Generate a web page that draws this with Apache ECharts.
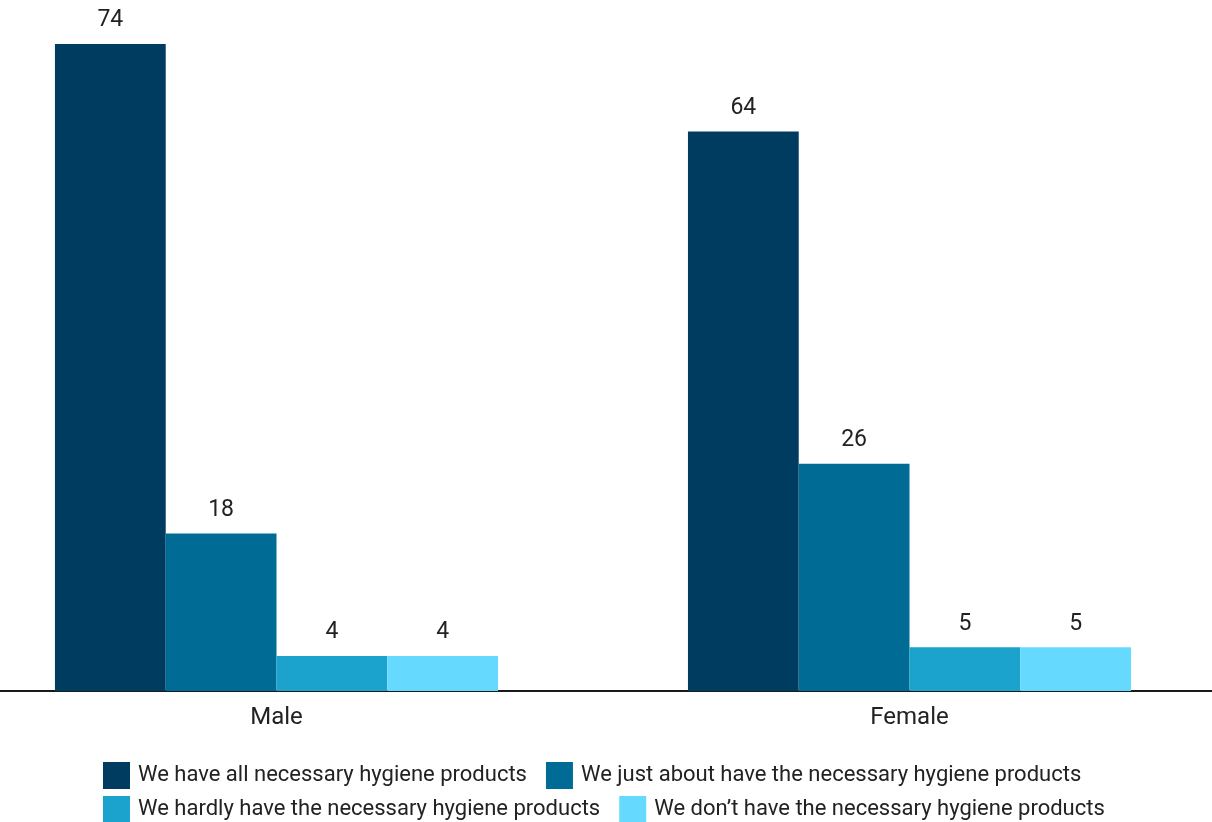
<!DOCTYPE html>
<html><head><meta charset="utf-8">
<script src="https://cdn.jsdelivr.net/npm/echarts@6/dist/echarts.min.js"></script>
<style>html,body{margin:0;padding:0;background:#fff}#c{width:1212px;height:822px}</style>
</head><body><div id="c"></div>
<script>
const categories = ['Male', 'Female'];
const seriesNames = [
  'We have all necessary hygiene products',
  'We just about have the necessary hygiene products',
  'We hardly have the necessary hygiene products',
  'We don\u2019t have the necessary hygiene products'
];
const allValues = [74, 64];
const justAboutValues = [18, 26];
const hardlyValues = [4, 5];
const dontValues = [4, 5];
const colors = ['#003c5f', '#006b94', '#1ba2cd', '#66d9ff'];

const dataSets = [allValues, justAboutValues, hardlyValues, dontValues];
const legendBase = {
  left: 103, padding: 0, orient: 'horizontal',
  itemWidth: 27, itemHeight: 27, itemGap: 19,
  icon: 'rect',
  textStyle: { fontSize: 22, color: '#222', fontFamily: 'Roboto', padding: [0, 0, 0, 3] }
};
const chart = echarts.init(document.getElementById('c'));
chart.setOption({
  animation: false,
  textStyle: { fontFamily: 'Roboto' },
  grid: { left: -40, right: -14, top: 44, bottom: 131, outerBoundsMode: 'none', containLabel: false },
  legend: [
    Object.assign({}, legendBase, { top: 762, data: seriesNames.slice(0, 2) }),
    Object.assign({}, legendBase, { top: 796, data: seriesNames.slice(2, 4) })
  ],
  xAxis: {
    type: 'category', data: categories,
    axisLine: { lineStyle: { color: '#1a1a1a', width: 2 } },
    axisTick: { show: false },
    axisLabel: { fontSize: 24, color: '#222', margin: 15 }
  },
  yAxis: { type: 'value', min: 0, max: 74, show: false, splitLine: { show: false } },
  series: dataSets.map((d, i) => ({
    name: seriesNames[i], type: 'bar', data: d,
    barGap: 0, barCategoryGap: '30%',
    itemStyle: { color: colors[i] },
    label: { show: true, position: 'top', distance: 12, fontSize: 23, color: '#222' }
  }))
});
</script></body></html>
